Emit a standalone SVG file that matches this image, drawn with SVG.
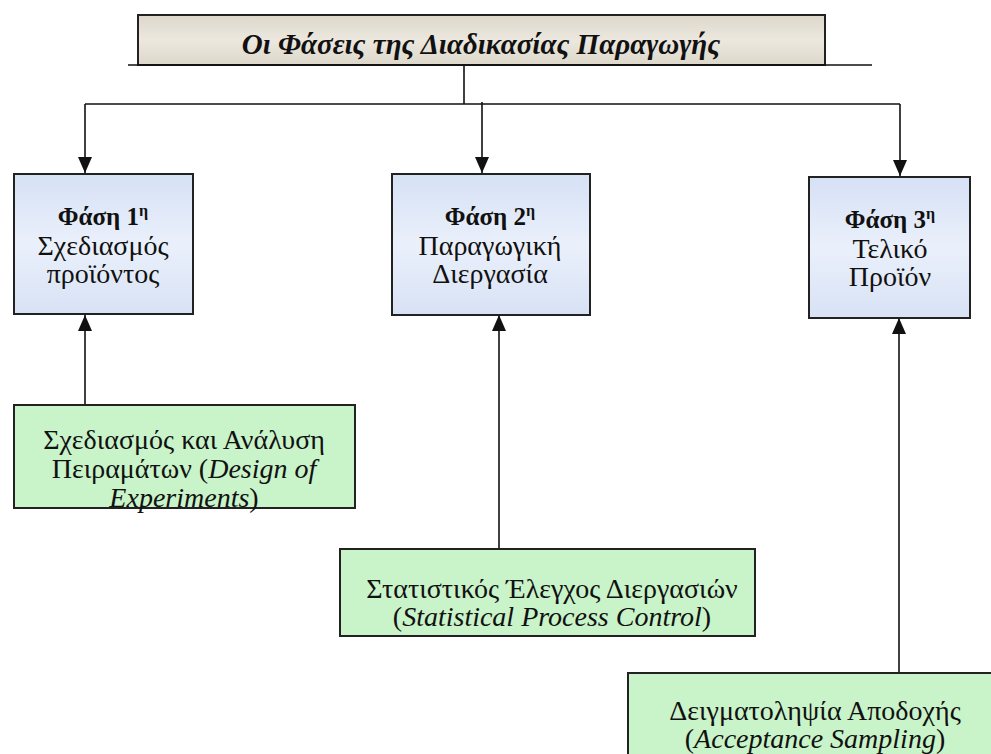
<svg xmlns="http://www.w3.org/2000/svg" width="991" height="754" viewBox="0 0 991 754">
<style>
text{font-family:"Liberation Serif","Tinos","DejaVu Serif",serif;fill:#111;text-anchor:middle}
.b{font-weight:bold}
.i{font-style:italic}
.ln{stroke:#111;stroke-width:1.6;fill:none}
.bx{stroke:#222;stroke-width:2}
.g{fill:#c9f3c9}
.r{font-size:28px}
.h{font-size:25px;font-weight:bold}
</style>
<defs>
<linearGradient id="gb" x1="0" y1="0" x2="0" y2="1">
<stop offset="0" stop-color="#d6e1f5"/><stop offset="0.5" stop-color="#eaf0fb"/><stop offset="1" stop-color="#d8e2f5"/>
</linearGradient>
<linearGradient id="gt" x1="0" y1="0" x2="0" y2="1">
<stop offset="0" stop-color="#ddd7ca"/><stop offset="0.5" stop-color="#ece8df"/><stop offset="1" stop-color="#ddd7ca"/>
</linearGradient>
<marker id="ah" viewBox="0 0 16 14" refX="16" refY="7" markerWidth="16" markerHeight="14" markerUnits="userSpaceOnUse" orient="auto">
<path d="M0,0 L16,7 L0,14 Z" fill="#111"/>
</marker>
</defs>

<g id="title">
<rect x="138" y="15" width="687" height="50" fill="url(#gt)" class="bx"/>
<text class="i b" x="481" y="54" font-size="29">Οι Φάσεις της Διαδικασίας Παραγωγής</text>
</g>

<g id="connectors">
<line class="ln" x1="128" y1="65" x2="872" y2="65"/>
<line class="ln" x1="464" y1="65" x2="464" y2="104"/>
<line class="ln" x1="85" y1="104" x2="900" y2="104"/>
<line class="ln" x1="85" y1="104" x2="85" y2="173" marker-end="url(#ah)"/>
<line class="ln" x1="482" y1="102" x2="482" y2="173" marker-end="url(#ah)"/>
<line class="ln" x1="900" y1="104" x2="900" y2="176" marker-end="url(#ah)"/>
<line class="ln" x1="85" y1="405" x2="85" y2="315" marker-end="url(#ah)"/>
<line class="ln" x1="499" y1="549" x2="499" y2="315" marker-end="url(#ah)"/>
<line class="ln" x1="899" y1="673" x2="899" y2="318" marker-end="url(#ah)"/>
</g>

<g id="phase1">
<rect x="14" y="174" width="179" height="140" fill="url(#gb)" class="bx"/>
<text class="h" x="103" y="225">Φάση 1<tspan font-size="16" dy="-9">η</tspan></text>
<text class="r" x="103" y="255">Σχεδιασμός</text>
<text class="r" x="103" y="283">προϊόντος</text>
</g>

<g id="phase2">
<rect x="392" y="174" width="198" height="141" fill="url(#gb)" class="bx"/>
<text class="h" x="490" y="225">Φάση 2<tspan font-size="16" dy="-9">η</tspan></text>
<text class="r" x="490" y="255">Παραγωγική</text>
<text class="r" x="490" y="283">Διεργασία</text>
</g>

<g id="phase3">
<rect x="809" y="177" width="161" height="141" fill="url(#gb)" class="bx"/>
<text class="h" x="890" y="228">Φάση 3<tspan font-size="16" dy="-9">η</tspan></text>
<text class="r" x="890" y="258">Τελικό</text>
<text class="r" x="890" y="286">Προϊόν</text>
</g>

<g id="doe">
<rect x="14" y="405" width="341" height="103" class="bx g"/>
<text class="r" x="184" y="449">Σχεδιασμός και Ανάλυση</text>
<text class="r" x="184" y="478">Πειραμάτων (<tspan class="i">Design of</tspan></text>
<text class="r" x="184" y="507"><tspan class="i">Experiments</tspan>)</text>
</g>

<g id="spc">
<rect x="340" y="549" width="415" height="87" class="bx g"/>
<text class="r" x="552" y="598">Στατιστικός Έλεγχος Διεργασιών</text>
<text class="r" x="552" y="626">(<tspan class="i">Statistical Process Control</tspan>)</text>
</g>

<g id="acc">
<rect x="628" y="673" width="380" height="100" class="bx g"/>
<text class="r" x="815" y="720">Δειγματοληψία  Αποδοχής</text>
<text class="r" x="815" y="748">(<tspan class="i">Acceptance Sampling</tspan>)</text>
</g>
</svg>
